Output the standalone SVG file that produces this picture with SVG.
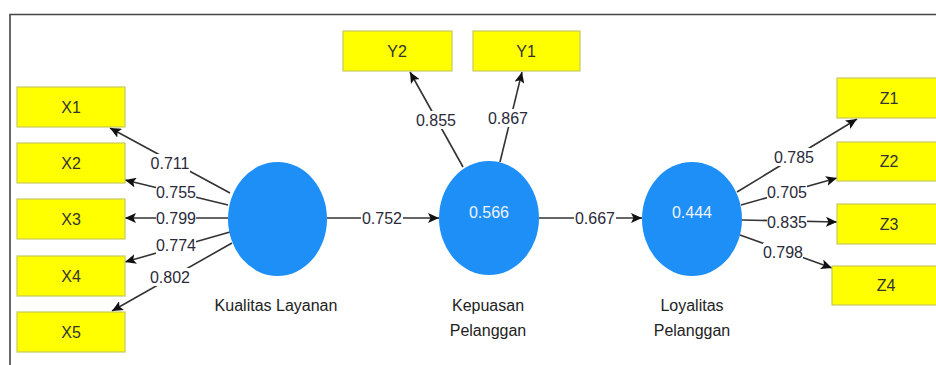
<svg xmlns="http://www.w3.org/2000/svg" width="936" height="365" viewBox="0 0 936 365">
<defs>
<marker id="ah" markerWidth="11" markerHeight="10" refX="11" refY="5" orient="auto" markerUnits="userSpaceOnUse">
<path d="M0,0 L11,5 L0,10 L2.5,5 z" fill="#111"/>
</marker>
<style>
.box{fill:#ffff00;stroke:#c8c860;stroke-width:1.2}
.lv{fill:#1e8ff7}
.bt{font-family:"Liberation Sans",Arial,sans-serif;font-size:16px;fill:#333;text-anchor:middle}
.lt{font-family:"Liberation Sans",Arial,sans-serif;font-size:16px;fill:#222;text-anchor:middle}
.in{font-family:"Liberation Sans",Arial,sans-serif;font-size:16px;fill:#eef4ff;text-anchor:middle}
.ln{stroke:#333;stroke-width:1.6;fill:none}
.ar{marker-end:url(#ah)}
.bg{fill:#fff}
.wl{font-family:"Liberation Sans",Arial,sans-serif;font-size:16px;fill:#2a2a3a;text-anchor:middle}
</style>
</defs>
<rect x="0" y="0" width="936" height="365" fill="#fff"/>
<path d="M10,365 L10,14.5 L936,14.5" fill="none" stroke="#444" stroke-width="1.6"/>

<g id="connectors">
<line class="ln ar" x1="230" y1="193" x2="110" y2="128"/>
<line class="ln ar" x1="228" y1="205" x2="125" y2="180"/>
<line class="ln ar" x1="228" y1="218" x2="125" y2="218"/>
<line class="ln ar" x1="230" y1="232" x2="125" y2="262"/>
<line class="ln ar" x1="232" y1="243" x2="112" y2="311"/>
<line class="ln ar" x1="327" y1="218" x2="439" y2="218"/>
<line class="ln ar" x1="463" y1="167" x2="410" y2="72"/>
<line class="ln ar" x1="500" y1="162" x2="522" y2="72"/>
<line class="ln ar" x1="539" y1="218" x2="642" y2="218"/>
<line class="ln ar" x1="737" y1="192" x2="857" y2="119"/>
<line class="ln ar" x1="741" y1="205" x2="837" y2="178"/>
<line class="ln ar" x1="742" y1="220" x2="837" y2="222"/>
<line class="ln ar" x1="740" y1="235" x2="832" y2="268"/>
<g>
<rect class="bg" x="150" y="154" width="40" height="18"/><text class="wl" x="170" y="169">0.711</text>
<rect class="bg" x="156" y="183" width="40" height="18"/><text class="wl" x="176" y="198">0.755</text>
<rect class="bg" x="156" y="209" width="40" height="18"/><text class="wl" x="176" y="224">0.799</text>
<rect class="bg" x="156" y="236" width="40" height="18"/><text class="wl" x="176" y="251">0.774</text>
<rect class="bg" x="150" y="268" width="40" height="18"/><text class="wl" x="170" y="283">0.802</text>
<rect class="bg" x="361" y="209" width="42" height="18"/><text class="wl" x="382" y="224">0.752</text>
<rect class="bg" x="416" y="111" width="40" height="18"/><text class="wl" x="436" y="126">0.855</text>
<rect class="bg" x="488" y="109" width="40" height="18"/><text class="wl" x="508" y="124">0.867</text>
<rect class="bg" x="574" y="209" width="42" height="18"/><text class="wl" x="595" y="224">0.667</text>
<rect class="bg" x="774" y="148" width="40" height="18"/><text class="wl" x="794" y="163">0.785</text>
<rect class="bg" x="767" y="183" width="40" height="18"/><text class="wl" x="787" y="198">0.705</text>
<rect class="bg" x="767" y="213" width="40" height="18"/><text class="wl" x="787" y="228">0.835</text>
<rect class="bg" x="763" y="243" width="40" height="18"/><text class="wl" x="783" y="258">0.798</text>
</g>
</g>

<g id="X1"><rect class="box" x="17" y="87" width="108" height="40"/><text class="bt" x="71" y="113">X1</text></g>
<g id="X2"><rect class="box" x="17" y="143" width="108" height="40"/><text class="bt" x="71" y="169">X2</text></g>
<g id="X3"><rect class="box" x="17" y="199" width="108" height="40"/><text class="bt" x="71" y="225">X3</text></g>
<g id="X4"><rect class="box" x="17" y="256" width="108" height="40"/><text class="bt" x="71" y="282">X4</text></g>
<g id="X5"><rect class="box" x="17" y="312" width="108" height="40"/><text class="bt" x="71" y="338">X5</text></g>

<g id="Y2"><rect class="box" x="343" y="31" width="109" height="40"/><text class="bt" x="397" y="57">Y2</text></g>
<g id="Y1"><rect class="box" x="473" y="31" width="107" height="40"/><text class="bt" x="526" y="57">Y1</text></g>

<g id="Z1"><rect class="box" x="837" y="78" width="110" height="40"/><text class="bt" x="889" y="104">Z1</text></g>
<g id="Z2"><rect class="box" x="837" y="142" width="110" height="39"/><text class="bt" x="889" y="167">Z2</text></g>
<g id="Z3"><rect class="box" x="837" y="204" width="110" height="40"/><text class="bt" x="889" y="230">Z3</text></g>
<g id="Z4"><rect class="box" x="832" y="266" width="115" height="39"/><text class="bt" x="886" y="291">Z4</text></g>

<g id="KualitasLayanan"><ellipse class="lv" cx="277.5" cy="219" rx="49.5" ry="57"/><text class="lt" x="276" y="311">Kualitas Layanan</text></g>
<g id="KepuasanPelanggan"><ellipse class="lv" cx="489" cy="218" rx="50" ry="57"/><text class="in" x="489" y="218">0.566</text><text class="lt" x="488" y="311">Kepuasan</text><text class="lt" x="488" y="336">Pelanggan</text></g>
<g id="LoyalitasPelanggan"><ellipse class="lv" cx="692" cy="219" rx="50" ry="57"/><text class="in" x="692" y="218">0.444</text><text class="lt" x="692" y="311">Loyalitas</text><text class="lt" x="692" y="336">Pelanggan</text></g>
</svg>
